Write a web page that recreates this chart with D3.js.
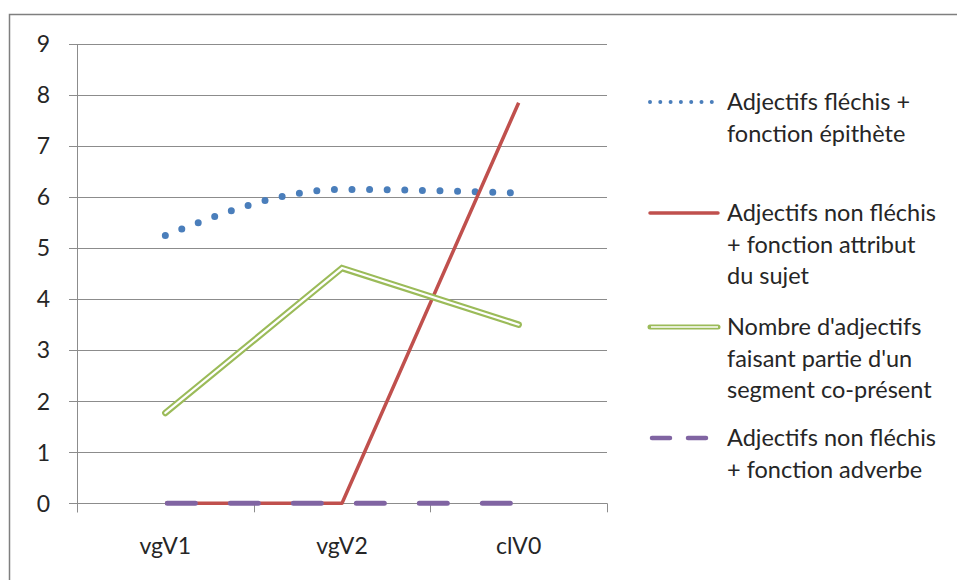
<!DOCTYPE html>
<html><head><meta charset="utf-8">
<script src="https://cdn.jsdelivr.net/npm/d3@7"></script>
<style>body{margin:0;background:#fff}svg{display:block}text{font-family:Lato,"Open Sans",sans-serif;fill:#262626}</style>
</head><body><svg id="c" width="957" height="580"></svg>
<script>
const categories = ["vgV1", "vgV2", "clV0"];
const yTicks = [0,1,2,3,4,5,6,7,8,9];
const seriesNames = [
  ["Adjectifs fléchis +", "fonction épithète"],
  ["Adjectifs non fléchis", "+ fonction attribut", "du sujet"],
  ["Nombre d'adjectifs", "faisant partie d'un", "segment co-présent"],
  ["Adjectifs non fléchis", "+ fonction adverbe"]
];
const epithete = [5.25, 6.15, 6.08];
const attribut = [0, 0, 7.85];
const segment = [1.77, 4.61, 3.5];
const adverbe = [0, 0, 0];

const svg = d3.select("#c");
svg.append("rect").attr("x",9.5).attr("y",14.5).attr("width",1000).attr("height",1000)
  .attr("fill","none").attr("stroke","#7f7f7f").attr("stroke-width",1.5);

const x = d3.scaleBand().domain(categories).range([77, 607]);
const y = d3.scaleLinear().domain([0, 9]).range([503.3, 44]);
const cx = d => x(d) + x.bandwidth()/2;

// gridlines
svg.append("g").selectAll("line").data(yTicks).join("line")
  .attr("x1",69).attr("x2",607).attr("y1",d=>Math.round(y(d))+0.5).attr("y2",d=>Math.round(y(d))+0.5)
  .attr("stroke","#8c8c8c").attr("stroke-width",1);
// y axis line
svg.append("line").attr("x1",77.5).attr("x2",77.5).attr("y1",y(9)).attr("y2",y(0)+9)
  .attr("stroke","#8c8c8c");
// x ticks at band boundaries
const bounds = categories.map(c=>x(c)).concat([x.range()[1]]);
svg.append("g").selectAll("line").data(bounds).join("line")
  .attr("x1",d=>Math.round(d)+0.5).attr("x2",d=>Math.round(d)+0.5)
  .attr("y1",y(0)).attr("y2",y(0)+9).attr("stroke","#8c8c8c");
// y labels
svg.append("g").selectAll("text").data(yTicks).join("text")
  .attr("x",50).attr("y",d=>y(d)).attr("dy","0.36em").attr("text-anchor","end")
  .style("font-size","23px").text(d=>d);
// x labels
svg.append("g").selectAll("text").data(categories).join("text")
  .attr("x",d=>cx(d)).attr("y",554).attr("text-anchor","middle")
  .style("font-size","23px").text(d=>d);

const line = d3.line().x((d,i)=>cx(categories[i])).y(d=>y(d));
const smooth = d3.line().x((d,i)=>cx(categories[i])).y(d=>y(d)).curve(d3.curveMonotoneX);

// blue dotted smooth
svg.append("path").attr("d",smooth(epithete)).attr("fill","none")
  .attr("stroke","#4A7EBB").attr("stroke-width",7).attr("stroke-linecap","round")
  .attr("stroke-dasharray","0 17.6");
// red
svg.append("path").attr("d",line(attribut)).attr("fill","none")
  .attr("stroke","#C0504D").attr("stroke-width",3.5).attr("stroke-linejoin","round");
// green double
svg.append("path").attr("d",line(segment)).attr("fill","none")
  .attr("stroke","#9BBB59").attr("stroke-width",6.5).attr("stroke-linejoin","miter").attr("stroke-linecap","round");
svg.append("path").attr("d",line(segment)).attr("fill","none")
  .attr("stroke","#ffffff").attr("stroke-width",2.2).attr("stroke-linejoin","miter").attr("stroke-linecap","round");
// purple dashed
svg.append("path").attr("d",line(adverbe)).attr("fill","none")
  .attr("stroke","#8064A2").attr("stroke-width",5).attr("stroke-linecap","round")
  .attr("stroke-dasharray","28 35").attr("stroke-dashoffset",-2);

// legend
const lg = svg.append("g");
const entryY = [102, 213, 327, 438];
const sx1 = 650, sx2 = 718, tx = 727, lh = 31.5;
lg.append("line").attr("x1",sx1).attr("x2",sx2).attr("y1",entryY[0]).attr("y2",entryY[0])
  .attr("stroke","#4A7EBB").attr("stroke-width",4).attr("stroke-linecap","round").attr("stroke-dasharray","0 10.3");
lg.append("line").attr("x1",sx1).attr("x2",sx2).attr("y1",entryY[1]).attr("y2",entryY[1])
  .attr("stroke","#C0504D").attr("stroke-width",3.5).attr("stroke-linecap","round");
lg.append("line").attr("x1",sx1).attr("x2",sx2).attr("y1",entryY[2]).attr("y2",entryY[2])
  .attr("stroke","#9BBB59").attr("stroke-width",5).attr("stroke-linecap","round");
lg.append("line").attr("x1",sx1+1).attr("x2",sx2).attr("y1",entryY[2]).attr("y2",entryY[2])
  .attr("stroke","#ffffff").attr("stroke-width",1.6);
lg.append("line").attr("x1",sx1+2).attr("x2",sx2).attr("y1",entryY[3]).attr("y2",entryY[3])
  .attr("stroke","#8064A2").attr("stroke-width",4.5).attr("stroke-linecap","round").attr("stroke-dasharray","18 18");
seriesNames.forEach((lines,k)=>{
  lg.append("g").selectAll("text").data(lines).join("text")
    .attr("x",tx).attr("y",(d,i)=>entryY[k]+i*lh).attr("dy","0.35em")
    .style("font-size","23.5px").text(d=>d);
});
</script></body></html>
